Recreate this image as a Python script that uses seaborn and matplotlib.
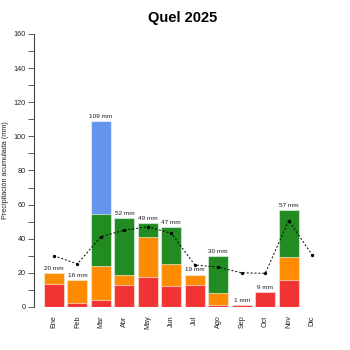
import numpy as np
import matplotlib
matplotlib.use("Agg")
import matplotlib.pyplot as plt
from matplotlib.ticker import MultipleLocator
import seaborn as sns

months = ["Ene", "Feb", "Mar", "Abr", "May", "Jun", "Jul", "Ago", "Sep", "Oct", "Nov", "Dic"]
# monthly precipitation split by category (mm)
red = [13.5, 2.3, 4.0, 13.0, 17.8, 12.0, 13.0, 1.3, 1.0, 9.0, 15.6, 0.0]
orange = [6.5, 13.7, 20.2, 6.0, 23.2, 13.4, 5.5, 6.7, 0.0, 0.0, 13.9, 0.0]
green = [0.0, 0.0, 30.3, 33.0, 8.0, 21.6, 0.5, 22.0, 0.0, 0.0, 27.5, 0.0]
blue = [0.0, 0.0, 54.5, 0.0, 0.0, 0.0, 0.0, 0.0, 0.0, 0.0, 0.0, 0.0]
# reference monthly mean (mm)
mean = [30.0, 25.2, 41.2, 45.0, 47.0, 43.2, 24.6, 23.3, 20.0, 19.7, 50.6, 30.5]

colors = ["#F03434", "#FF8C00", "#228B22", "#6495ED"]

sns.set_style("white")
plt.rcParams["font.family"] = ["Liberation Sans", "DejaVu Sans"]

fig = plt.figure(figsize=(3.5, 3.5), dpi=100)
ax = fig.add_axes([0.097, 0.123, 0.852, 0.78])

layers = [np.array(red), np.array(orange), np.array(green), np.array(blue)]
cum = np.cumsum(layers, axis=0)
totals = cum[-1]

# stacked bars: draw cumulative heights from the top layer down
for level in range(3, -1, -1):
    sns.barplot(x=months, y=cum[level], color=colors[level], width=0.85,
                saturation=1, edgecolor=(1, 1, 1, 0.55), linewidth=0.8, ax=ax)

xs = np.arange(len(months))
sns.lineplot(x=xs, y=mean, color="black", linestyle=(0, (2, 2)), linewidth=0.7,
             marker="o", markersize=2.4, markeredgewidth=0, ax=ax)

for x, t in zip(xs, totals):
    if t > 0:
        ax.annotate(f"{round(t):d} mm", (x, t), xytext=(0, 1.5), textcoords="offset points",
                    ha="center", va="bottom", fontsize=4.6, color="#1a1a2a")

ax.set_xlim(-0.85, 11.85)
ax.set_ylim(0, 160)
ax.yaxis.set_major_locator(MultipleLocator(20))
ax.yaxis.set_minor_locator(MultipleLocator(10))
ax.tick_params(axis="y", which="both", direction="out", length=4, width=0.6,
               color="#444444", labelsize=5.2, labelcolor="#222222", pad=2, left=True)
ax.tick_params(axis="x", length=0, labelsize=5.2, labelcolor="#222222", pad=6)
ax.set_xticks(xs)
ax.set_xticklabels(months, rotation=90, va="top")
ax.set_xlabel("")
ax.set_ylabel("Precipitación acumulada (mm)", fontsize=5.2, color="#222222", labelpad=3)

for s in ["top", "right", "bottom"]:
    ax.spines[s].set_visible(False)
ax.spines["left"].set_color("#444444")
ax.spines["left"].set_linewidth(0.8)

fig.text(0.523, 0.948, "Quel 2025", ha="center", va="center", fontsize=10.5,
         fontweight="bold", color="black")

fig.savefig("out.png", dpi=100)
